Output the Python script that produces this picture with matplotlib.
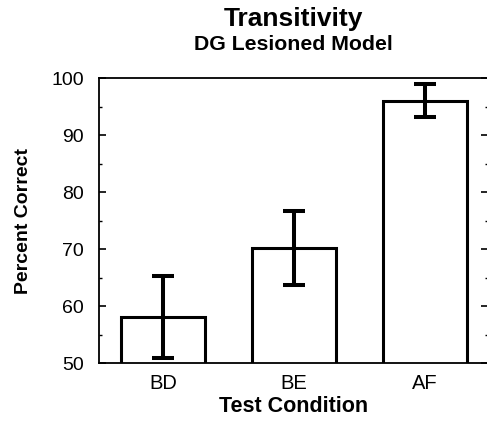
import matplotlib
matplotlib.use("Agg")
import matplotlib.pyplot as plt
from matplotlib.ticker import MultipleLocator

plt.rcParams['font.family'] = ['Liberation Sans', 'DejaVu Sans']

categories = ["BD", "BE", "AF"]
values = [58.1, 70.1, 96.0]
errors = [7.2, 6.5, 2.9]

fig = plt.figure(figsize=(4.87, 4.23), dpi=100)
ax = fig.add_axes([99/487, 1-363/423, 389/487, 285/423])

x = list(range(len(categories)))
ax.bar(x, values, width=0.64, bottom=0, color="white", edgecolor="black",
       linewidth=2.2, zorder=2)
ax.errorbar(x, values, yerr=errors, fmt="none", ecolor="black",
            elinewidth=2.9, capsize=7.8, capthick=2.9, zorder=3)

ax.set_ylim(50, 100)
ax.set_xlim(-0.49, 2.48)
ax.set_xticks(x)
ax.set_xticklabels(categories, fontsize=14.5)
ax.yaxis.set_major_locator(MultipleLocator(10))
ax.yaxis.set_minor_locator(MultipleLocator(5))
ax.tick_params(axis='y', which='major', direction='in', length=5, width=1.2,
               labelsize=14, right=True, pad=11)
ax.tick_params(axis='y', which='minor', direction='in', length=2.5, width=1.0,
               right=True)
ax.tick_params(axis='x', length=0, pad=8)
for s in ax.spines.values():
    s.set_linewidth(1.3)

ax.set_ylabel("Percent Correct", fontsize=14, fontweight='bold', va='center')
ax.yaxis.set_label_coords(-0.194, 0.5)
ax.set_xlabel("Test Condition", fontsize=15.5, fontweight='bold', labelpad=2)

fig.text(293/487, 1-26/423, "Transitivity", ha='center', va='baseline',
         fontsize=19, fontweight='bold')
fig.text(293/487, 1-50.5/423, "DG Lesioned Model", ha='center', va='baseline',
         fontsize=15.3, fontweight='bold')

fig.savefig("out.png", dpi=100)
